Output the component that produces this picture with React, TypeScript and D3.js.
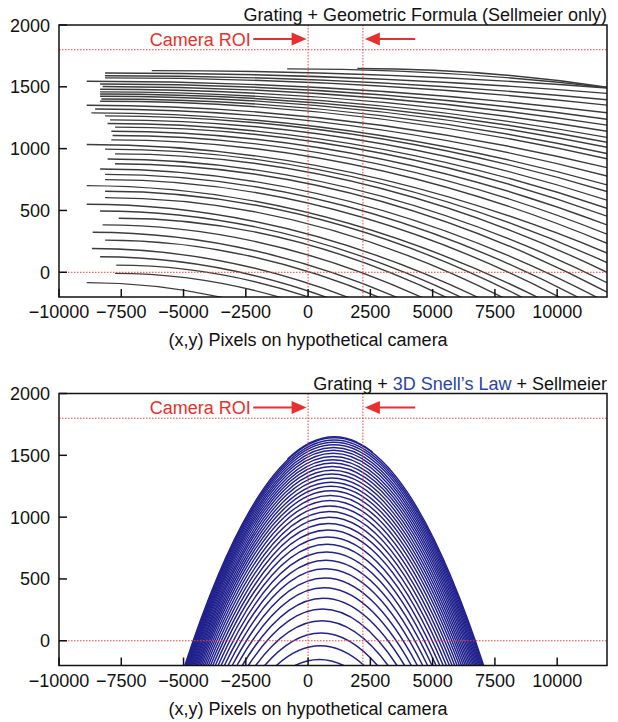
import React from "react";
import * as d3 from "d3";

// ---------- axes ----------
const xTicks = [-10000, -7500, -5000, -2500, 0, 2500, 5000, 7500, 10000];
const yTicks = [0, 500, 1000, 1500, 2000];
const xDomain = [-10000, 12000];
const yDomain = [-200, 2000];
const roiX = [0, 2200];
const refY = [0, 1800];

// ---------- top panel: Grating + Geometric Formula ----------
// start x, y at start, y at x = 12000 (may be beyond the frame)
const topStartX = [
  -6275, -8150, -8150, -8150, -8887, -8350, -8250, -8350, -8350, -8350, -8350, -8300,
  -8350, -8887, -8550, -8700, -8150, -7950, -8050, -7750, -7900, -7850, -7900, -8887,
  -8150, -7750, -8050, -7750, -8350, -8150, -8150, -8887, -8150, -8150, -8887, -8350,
  -7600, -8250, -8650, -8150, -8680, -8350, -7700, -7750, -8887,
  -840, 1980,
];
const topStartY = [
  1631, 1612, 1590, 1572, 1545, 1523, 1502, 1480, 1459, 1442, 1424, 1402,
  1383, 1351, 1321, 1289, 1265, 1233, 1203, 1174, 1141, 1106, 1071, 1034,
  996, 958, 916, 878, 835, 792, 749, 701, 655, 604, 550, 496,
  437, 383, 324, 260, 192, 125, 58, -9, -84,
  1645, 1648,
];
const topEndY = [
  1491, 1447, 1395, 1352, 1290, 1238, 1190, 1140, 1091, 1052, 1011, 961,
  918, 846, 778, 707, 653, 583, 517, 454, 383, 308, 234, 156,
  78, 0, -84, -160, -245, -328, -411, -502, -588, -683, -782, -880,
  -985, -1080, -1182, -1291, -1405, -1515, -1622, -1729, -1847,
  1495, 1497,
];

// ---------- bottom panel: Grating + 3D Snell's Law ----------
// apex height, apex x, half width at y = -200
const archApexY = [
  1642, 1624, 1606, 1585, 1563, 1540, 1516, 1491, 1465, 1438, 1409, 1379,
  1348, 1316, 1283, 1249, 1213, 1175, 1134, 1091, 1046, 999, 949, 896,
  840, 781, 718, 652, 582, 507, 428, 344, 256, 162, 63, -41, -151,
];
const archCenterX = [
  1050, 1044, 1038, 1031, 1024, 1016, 1008, 999, 991, 982, 972, 962,
  951, 941, 930, 918, 906, 894, 880, 866, 850, 835, 818, 800,
  782, 762, 741, 719, 695, 670, 644, 616, 586, 555, 522, 487, 450,
];
const archHalfWidth = [
  5998, 5969, 5939, 5905, 5868, 5830, 5789, 5747, 5703, 5656, 5606, 5553,
  5499, 5441, 5382, 5320, 5253, 5182, 5104, 5021, 4933, 4839, 4737, 4627,
  4507, 4377, 4234, 4079, 3908, 3716, 3502, 3260, 2984, 2659, 2266, 1762, 978,
];
// short arch pieces drawn only over part of the field: apex, centre, half width, x from, x to
const pieceApexY = [1650, 1648];
const pieceCenterX = [1050, 1050];
const pieceHalfWidth = [6010, 6005];
const pieceFrom = [-840, 1980];
const pieceTo = [1980, 2600];

const FONT = "'Liberation Sans', Arial, Helvetica, sans-serif";
const FS = 18;
const RED = "#e5302d";
const DOT_RED = "#f04040";
const BLUE = "#22228e";

type PanelProps = {
  top: number;
  bottom: number;
  id: string;
  variant: "geo" | "snell";
};

function archPath(x: d3.ScaleLinear<number, number>, y: d3.ScaleLinear<number, number>,
  h: number, xc: number, w: number): string {
  const p = d3.path();
  const yb = y(-200);
  const ya = y(h);
  p.moveTo(x(xc - w), yb);
  p.quadraticCurveTo(x(xc), 2 * ya - yb, x(xc + w), yb);
  return p.toString();
}

function Panel({ top, bottom, id, variant }: PanelProps) {
  const left = 59;
  const right = 607;
  const x = d3.scaleLinear().domain(xDomain).range([left, right]);
  const y = d3.scaleLinear().domain(yDomain).range([bottom, top]);

  const curves: string[] = [];
  if (variant === "geo") {
    topStartX.forEach((xs, i) => {
      const p = d3.path();
      const x0 = x(xs), y0 = y(topStartY[i]);
      const x1 = x(12000), y1 = y(topEndY[i]);
      p.moveTo(x0, y0);
      p.quadraticCurveTo((x0 + x1) / 2, y0, x1, y1);
      curves.push(p.toString());
    });
  } else {
    archApexY.forEach((h, i) => {
      curves.push(archPath(x, y, h, archCenterX[i], archHalfWidth[i]));
    });
  }

  const arrowY = top + 14;
  const lTail = x(-2200), lTip = x(-60);
  const rTail = x(4300), rTip = x(2280);

  return (
    <g>
      <defs>
        <clipPath id={id}>
          <rect x={left} y={top} width={right - left} height={bottom - top} />
        </clipPath>
        {variant === "snell" &&
          pieceFrom.map((f, i) => (
            <clipPath id={`${id}-piece${i}`} key={i}>
              <rect x={x(f)} y={top} width={x(pieceTo[i]) - x(f)} height={bottom - top} />
            </clipPath>
          ))}
      </defs>
      <g clipPath={`url(#${id})`}>
        {curves.map((d, i) => (
          <path
            key={i}
            d={d}
            fill="none"
            stroke={variant === "geo" ? "#3c3c3c" : BLUE}
            strokeWidth={variant === "geo" ? 1.4 : 1.5}
          />
        ))}
        {variant === "snell" &&
          pieceApexY.map((h, i) => (
            <path
              key={"p" + i}
              d={archPath(x, y, h, pieceCenterX[i], pieceHalfWidth[i])}
              clipPath={`url(#${id}-piece${i})`}
              fill="none"
              stroke={BLUE}
              strokeWidth={1.5}
            />
          ))}
      </g>
      {refY.map((v) => (
        <line key={"h" + v} x1={left} x2={right} y1={y(v)} y2={y(v)}
          stroke={DOT_RED} strokeWidth={1} strokeDasharray="1.5,1.5" />
      ))}
      {roiX.map((v) => (
        <line key={"v" + v} x1={x(v)} x2={x(v)} y1={top} y2={bottom}
          stroke={DOT_RED} strokeWidth={1} strokeDasharray="1.5,1.5" />
      ))}
      <rect x={left} y={top} width={right - left} height={bottom - top}
        fill="none" stroke="#111" strokeWidth={1.5} />
      {xTicks.map((t) => (
        <g key={"xt" + t}>
          <line x1={x(t)} x2={x(t)} y1={bottom} y2={bottom - 8} stroke="#111" strokeWidth={1.5} />
          <text x={x(t)} y={bottom + 21} textAnchor="middle" fontSize={FS} fontFamily={FONT} fill="#111">
            {t < 0 ? "\u2212" + Math.abs(t) : String(t)}
          </text>
        </g>
      ))}
      {yTicks.map((t) => (
        <g key={"yt" + t}>
          <line x1={left} x2={left + 8} y1={y(t)} y2={y(t)} stroke="#111" strokeWidth={1.5} />
          <text x={left - 9} y={y(t) + 6.5} textAnchor="end" fontSize={FS} fontFamily={FONT} fill="#111">
            {String(t)}
          </text>
        </g>
      ))}
      <text x={x(0)} y={bottom + 49} textAnchor="middle" fontSize={FS} fontFamily={FONT} fill="#111">
        (x,y) Pixels on hypothetical camera
      </text>
      {variant === "geo" ? (
        <text x={right} y={top - 4} textAnchor="end" fontSize={FS} fontFamily={FONT} fill="#111">
          Grating + Geometric Formula (Sellmeier only)
        </text>
      ) : (
        <text x={right} y={top - 4} textAnchor="end" fontSize={FS} fontFamily={FONT} fill="#111">
          Grating + <tspan fill="#2a44a8">3D Snell’s Law</tspan> + Sellmeier
        </text>
      )}
      <text x={x(-2300)} y={arrowY + 6.5} textAnchor="end" fontSize={FS} fontFamily={FONT} fill={RED}>
        Camera ROI
      </text>
      <line x1={lTail} x2={lTip - 12} y1={arrowY} y2={arrowY} stroke={RED} strokeWidth={2} />
      <path d={`M${lTip},${arrowY} L${lTip - 15},${arrowY - 6.5} L${lTip - 15},${arrowY + 6.5} Z`} fill={RED} />
      <line x1={rTail} x2={rTip + 12} y1={arrowY} y2={arrowY} stroke={RED} strokeWidth={2} />
      <path d={`M${rTip},${arrowY} L${rTip + 15},${arrowY - 6.5} L${rTip + 15},${arrowY + 6.5} Z`} fill={RED} />
    </g>
  );
}

export default function App() {
  return (
    <svg
      width={618}
      height={722}
      viewBox="0 0 618 722"
      style={{ position: "absolute", left: 0, top: 0, background: "#fff" }}
    >
      <rect x={0} y={0} width={618} height={722} fill="#fff" />
      <Panel top={25} bottom={297} id="clipTop" variant="geo" />
      <Panel top={393.5} bottom={665.5} id="clipBottom" variant="snell" />
    </svg>
  );
}
